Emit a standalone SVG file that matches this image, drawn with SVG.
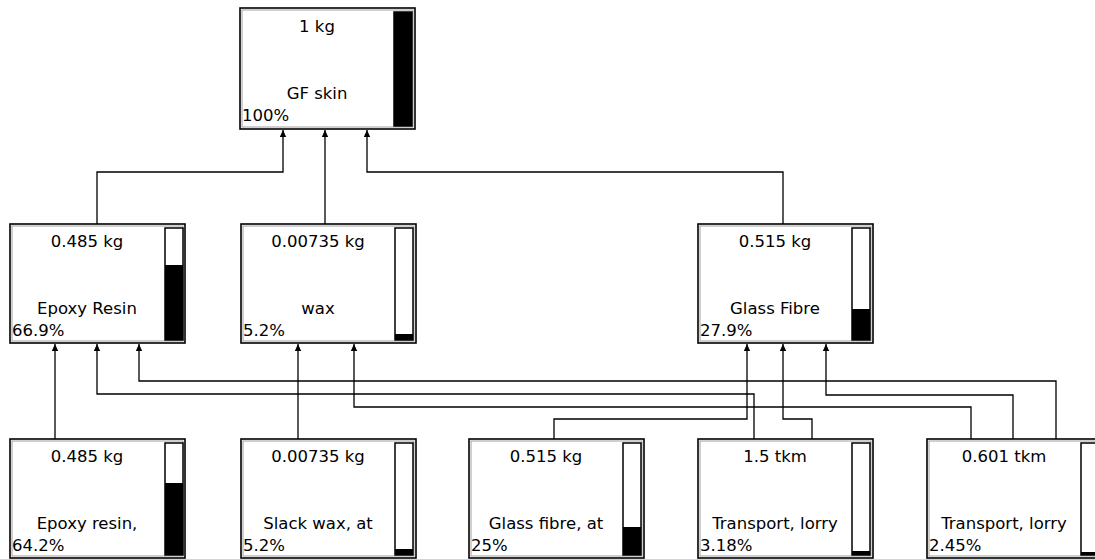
<svg xmlns="http://www.w3.org/2000/svg" width="1095" height="559" viewBox="0 0 1095 559">
<defs>
<marker id="arr" viewBox="0 0 7 7" refX="7" refY="3.5" markerWidth="7" markerHeight="7" orient="auto" markerUnits="userSpaceOnUse"><path d="M0,0.3 L7,3.5 L0,6.7 z" fill="#000"/></marker>
<style>
.box{fill:#fff;stroke:#000;stroke-width:1.6}
.inner{fill:none;stroke:#a0a0a0;stroke-width:1}
.bar{fill:#fff;stroke:#000;stroke-width:1.5}
.fill{fill:#000}
.t{font-family:"DejaVu Sans",Verdana,sans-serif;font-size:16.5px;fill:#000}
.c{text-anchor:middle}
.conn{fill:none;stroke:#000;stroke-width:1.3;marker-end:url(#arr)}
</style>
</defs>
<rect width="1095" height="559" fill="#fff"/>
<g id="connectors">
<path class="conn" d="M97 224 V172 H283 V130"/>
<path class="conn" d="M325 224 V130"/>
<path class="conn" d="M783 224 V172 H367 V130"/>
<path class="conn" d="M55 439 V344"/>
<path class="conn" d="M754 439 V394 H97 V344"/>
<path class="conn" d="M1056 439 V381 H139 V344"/>
<path class="conn" d="M298 439 V344"/>
<path class="conn" d="M971 439 V407 H354 V344"/>
<path class="conn" d="M554 439 V419 H747 V344"/>
<path class="conn" d="M812 439 V419 H783 V344"/>
<path class="conn" d="M1013 439 V395 H826 V344"/>
</g>
<g id="gf-skin">
<rect class="box" x="240" y="8" width="175" height="121"/>
<rect class="inner" x="242" y="10" width="171" height="117"/>
<rect class="bar" x="394" y="12" width="18" height="114"/>
<rect class="fill" x="394" y="12" width="18" height="114"/>
<text class="t c" x="317" y="32">1 kg</text>
<text class="t c" x="317" y="99">GF skin</text>
<text class="t" x="242" y="121">100%</text>
</g>
<g id="epoxy-resin-mid">
<rect class="box" x="10" y="224" width="175" height="119"/>
<rect class="inner" x="12" y="226" width="171" height="115"/>
<rect class="bar" x="165" y="228" width="18" height="112"/>
<rect class="fill" x="165" y="265" width="18" height="75"/>
<text class="t c" x="87" y="247">0.485 kg</text>
<text class="t c" x="87" y="314">Epoxy Resin</text>
<text class="t" x="12" y="336">66.9%</text>
</g>
<g id="wax-mid">
<rect class="box" x="241" y="224" width="175" height="119"/>
<rect class="inner" x="243" y="226" width="171" height="115"/>
<rect class="bar" x="395" y="228" width="18" height="112"/>
<rect class="fill" x="395" y="334" width="18" height="6"/>
<text class="t c" x="318" y="247">0.00735 kg</text>
<text class="t c" x="318" y="314">wax</text>
<text class="t" x="243" y="336">5.2%</text>
</g>
<g id="glass-fibre-mid">
<rect class="box" x="698" y="224" width="175" height="119"/>
<rect class="inner" x="700" y="226" width="171" height="115"/>
<rect class="bar" x="852" y="228" width="18" height="112"/>
<rect class="fill" x="852" y="309" width="18" height="31"/>
<text class="t c" x="775" y="247">0.515 kg</text>
<text class="t c" x="775" y="314">Glass Fibre</text>
<text class="t" x="700" y="336">27.9%</text>
</g>
<g id="epoxy-resin-bottom">
<rect class="box" x="10" y="439" width="175" height="119"/>
<rect class="inner" x="12" y="441" width="171" height="115"/>
<rect class="bar" x="165" y="443" width="18" height="112"/>
<rect class="fill" x="165" y="483" width="18" height="72"/>
<text class="t c" x="87" y="462">0.485 kg</text>
<text class="t c" x="87" y="529">Epoxy resin,</text>
<text class="t" x="12" y="551">64.2%</text>
</g>
<g id="slack-wax">
<rect class="box" x="241" y="439" width="175" height="119"/>
<rect class="inner" x="243" y="441" width="171" height="115"/>
<rect class="bar" x="395" y="443" width="18" height="112"/>
<rect class="fill" x="395" y="549" width="18" height="6"/>
<text class="t c" x="318" y="462">0.00735 kg</text>
<text class="t c" x="318" y="529">Slack wax, at</text>
<text class="t" x="243" y="551">5.2%</text>
</g>
<g id="glass-fibre-bottom">
<rect class="box" x="469" y="439" width="175" height="119"/>
<rect class="inner" x="471" y="441" width="171" height="115"/>
<rect class="bar" x="623" y="443" width="18" height="112"/>
<rect class="fill" x="623" y="527" width="18" height="28"/>
<text class="t c" x="546" y="462">0.515 kg</text>
<text class="t c" x="546" y="529">Glass fibre, at</text>
<text class="t" x="471" y="551">25%</text>
</g>
<g id="transport-1">
<rect class="box" x="698" y="439" width="175" height="119"/>
<rect class="inner" x="700" y="441" width="171" height="115"/>
<rect class="bar" x="852" y="443" width="18" height="112"/>
<rect class="fill" x="852" y="551" width="18" height="4"/>
<text class="t c" x="775" y="462">1.5 tkm</text>
<text class="t c" x="775" y="529">Transport, lorry</text>
<text class="t" x="700" y="551">3.18%</text>
</g>
<g id="transport-2">
<rect class="box" x="927" y="439" width="175" height="119"/>
<rect class="inner" x="929" y="441" width="171" height="115"/>
<rect class="bar" x="1081" y="443" width="18" height="112"/>
<rect class="fill" x="1081" y="552" width="18" height="3"/>
<text class="t c" x="1004" y="462">0.601 tkm</text>
<text class="t c" x="1004" y="529">Transport, lorry</text>
<text class="t" x="929" y="551">2.45%</text>
</g>
</svg>
